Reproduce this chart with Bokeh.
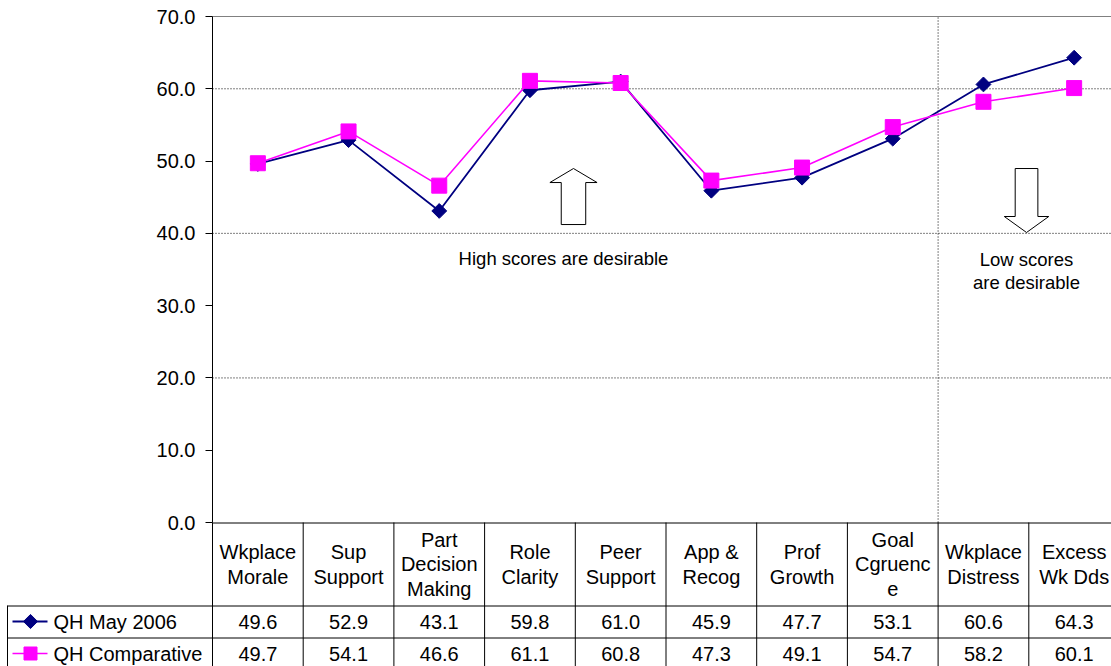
from bokeh.plotting import figure
from bokeh.models import Range1d, FixedTicker, PrintfTickFormatter, ColumnDataSource
from bokeh.core.properties import value
from bokeh.embed import file_html
from bokeh.resources import INLINE

# ---- data -------------------------------------------------------------
categories = ["Wkplace\nMorale", "Sup\nSupport", "Part\nDecision\nMaking", "Role\nClarity",
              "Peer\nSupport", "App &\nRecog", "Prof\nGrowth", "Goal\nCgruenc\ne",
              "Wkplace\nDistress", "Excess\nWk Dds"]
series_names = ["QH May 2006", "QH Comparative"]
may_2006 = [49.6, 52.9, 43.1, 59.8, 61.0, 45.9, 47.7, 53.1, 60.6, 64.3]
comparative = [49.7, 54.1, 46.6, 61.1, 60.8, 47.3, 49.1, 54.7, 58.2, 60.1]
y_ticks = [0, 10, 20, 30, 40, 50, 60, 70]
dotted_grid = [20, 40, 60]

# ---- layout constants (pixels) ----------------------------------------
FONT = value("Liberation Sans")
NAVY = "#000080"
MAGENTA = "#FF00FF"
W, H = 1111, 666
LEFT = 212          # x of the value axis
TOP = 16            # y of the 70.0 gridline
BASE = 522          # y of the 0.0 baseline
COL_PX = 90.7       # width of one category column
HEADER_BOTTOM = 605
ROW_H = 32
LEGEND_LEFT = 7

ppu = (BASE - TOP) / 70.0
n = len(categories)
xs = [i + 0.5 for i in range(n)]
bounds = list(range(n + 1))
y_max = y_ticks[-1]

p = figure(width=W, height=H, output_backend="svg", toolbar_location=None,
           x_range=Range1d(-LEFT / COL_PX, (W - LEFT) / COL_PX),
           y_range=Range1d(-(H - BASE) / ppu, y_max + TOP / ppu),
           x_axis_location=None,
           min_border_left=0, min_border_top=0, min_border_bottom=0, min_border_right=0)
p.outline_line_color = None
p.grid.visible = False
# pixel-row scale used for the data table below the chart
p.extra_y_ranges = {"tbl": Range1d(H, 0)}

# value axis drawn at the left edge of the category columns
ax = p.yaxis[0]
ax.fixed_location = 0
ax.bounds = (0, y_max)
ax.ticker = FixedTicker(ticks=y_ticks)
ax.formatter = PrintfTickFormatter(format="%.1f")
ax.axis_line_color = "black"
ax.major_tick_line_color = "black"
ax.major_tick_in = 0
ax.major_tick_out = 7
ax.minor_tick_line_color = None
ax.major_label_standoff = 10
ax.major_label_text_font = "Liberation Sans"
ax.major_label_text_font_size = "20px"
ax.major_label_text_color = "black"

# gridlines, top border and the divider before the distress measures
p.segment(x0=[0] * 3, y0=dotted_grid, x1=[n] * 3, y1=dotted_grid,
          line_color="black", line_dash="1 2", line_width=1)
p.segment(x0=[0], y0=[y_max], x1=[n], y1=[y_max], line_color="#808080", line_width=1)
p.segment(x0=[8], y0=[0], x1=[8], y1=[y_max], line_color="black", line_dash="1 2", line_width=1)

src = ColumnDataSource(dict(x=xs, a=may_2006, b=comparative))
p.line("x", "a", source=src, line_color=NAVY, line_width=1.8)
p.scatter("x", "a", source=src, marker="square", angle=0.785398, size=10.5,
          fill_color=NAVY, line_color=NAVY)
p.line("x", "b", source=src, line_color=MAGENTA, line_width=1.6)
p.scatter("x", "b", source=src, marker="square", size=15,
          fill_color=MAGENTA, line_color=MAGENTA)


def block_arrow(cx, tip, head, tail, head_half, shaft_half):
    """Outline of a block arrow pointing from tail to tip along y."""
    ax_ = [cx, cx + head_half, cx + shaft_half, cx + shaft_half,
           cx - shaft_half, cx - shaft_half, cx - head_half]
    ay_ = [tip, head, head, tail, tail, head, head]
    return ax_, ay_


ux, uy = block_arrow(3.98, 48.97, 47.03, 41.22, 0.26, 0.135)
p.patch(ux, uy, fill_color="white", line_color="black", line_width=1)
dx, dy = block_arrow(8.975, 40.12, 42.33, 48.97, 0.245, 0.125)
p.patch(dx, dy, fill_color="white", line_color="black", line_width=1)

p.text(x=[3.87], y=[36.52], text=["High scores are desirable"], text_font=FONT,
       text_font_size="18.5px", text_align="center", text_baseline="middle", text_color="black")
p.text(x=[8.975], y=[34.79], text=["Low scores\nare desirable"], text_font=FONT,
       text_font_size="18.5px", text_align="center", text_baseline="middle",
       text_line_height=1.06, text_color="black")

# ---- data table -------------------------------------------------------
legend_left = (LEGEND_LEFT - LEFT) / COL_PX
row_rules = [HEADER_BOTTOM + 0.5, HEADER_BOTTOM + ROW_H + 0.5]

p.segment(x0=[0], y0=[BASE + 0.5], x1=[n], y1=[BASE + 0.5], line_color="black",
          line_width=1, y_range_name="tbl")
p.segment(x0=bounds, y0=[BASE] * len(bounds), x1=bounds, y1=[H] * len(bounds),
          line_color="black", line_width=1, y_range_name="tbl")
p.segment(x0=[legend_left] * 2, y0=row_rules, x1=[n] * 2, y1=row_rules,
          line_color="black", line_width=1, y_range_name="tbl")
p.segment(x0=[legend_left], y0=[HEADER_BOTTOM], x1=[legend_left], y1=[H],
          line_color="black", line_width=1, y_range_name="tbl")

p.text(x=xs, y=[(BASE + HEADER_BOTTOM) / 2 + 0.5] * n, text=categories, text_font=FONT,
       text_font_size="20px", text_align="center", text_baseline="middle",
       text_line_height=1.13, text_color="black", y_range_name="tbl")
row_y = [HEADER_BOTTOM + ROW_H / 2, HEADER_BOTTOM + ROW_H + 16]
for vals, yy in zip([may_2006, comparative], row_y):
    p.text(x=xs, y=[yy] * n, text=[f"{v:.1f}" for v in vals], text_font=FONT,
           text_font_size="20px", text_align="center", text_baseline="middle",
           text_color="black", y_range_name="tbl")

# legend keys
key_x0 = (12 - LEFT) / COL_PX
key_x1 = (47 - LEFT) / COL_PX
key_xc = (30 - LEFT) / COL_PX
p.segment(x0=[key_x0], y0=[row_y[0]], x1=[key_x1], y1=[row_y[0]], line_color=NAVY,
          line_width=1.8, y_range_name="tbl")
p.scatter(x=[key_xc], y=[row_y[0]], marker="square", angle=0.785398, size=10,
          fill_color=NAVY, line_color=NAVY, y_range_name="tbl")
p.segment(x0=[key_x0], y0=[row_y[1]], x1=[key_x1], y1=[row_y[1]], line_color=MAGENTA,
          line_width=1.6, y_range_name="tbl")
p.scatter(x=[key_xc], y=[row_y[1]], marker="square", size=13,
          fill_color=MAGENTA, line_color=MAGENTA, y_range_name="tbl")
p.text(x=[(53 - LEFT) / COL_PX] * 2, y=row_y, text=series_names, text_font=FONT,
       text_font_size="20px", text_align="left", text_baseline="middle",
       text_color="black", y_range_name="tbl")

open("out.html", "w").write(file_html(p, INLINE))
